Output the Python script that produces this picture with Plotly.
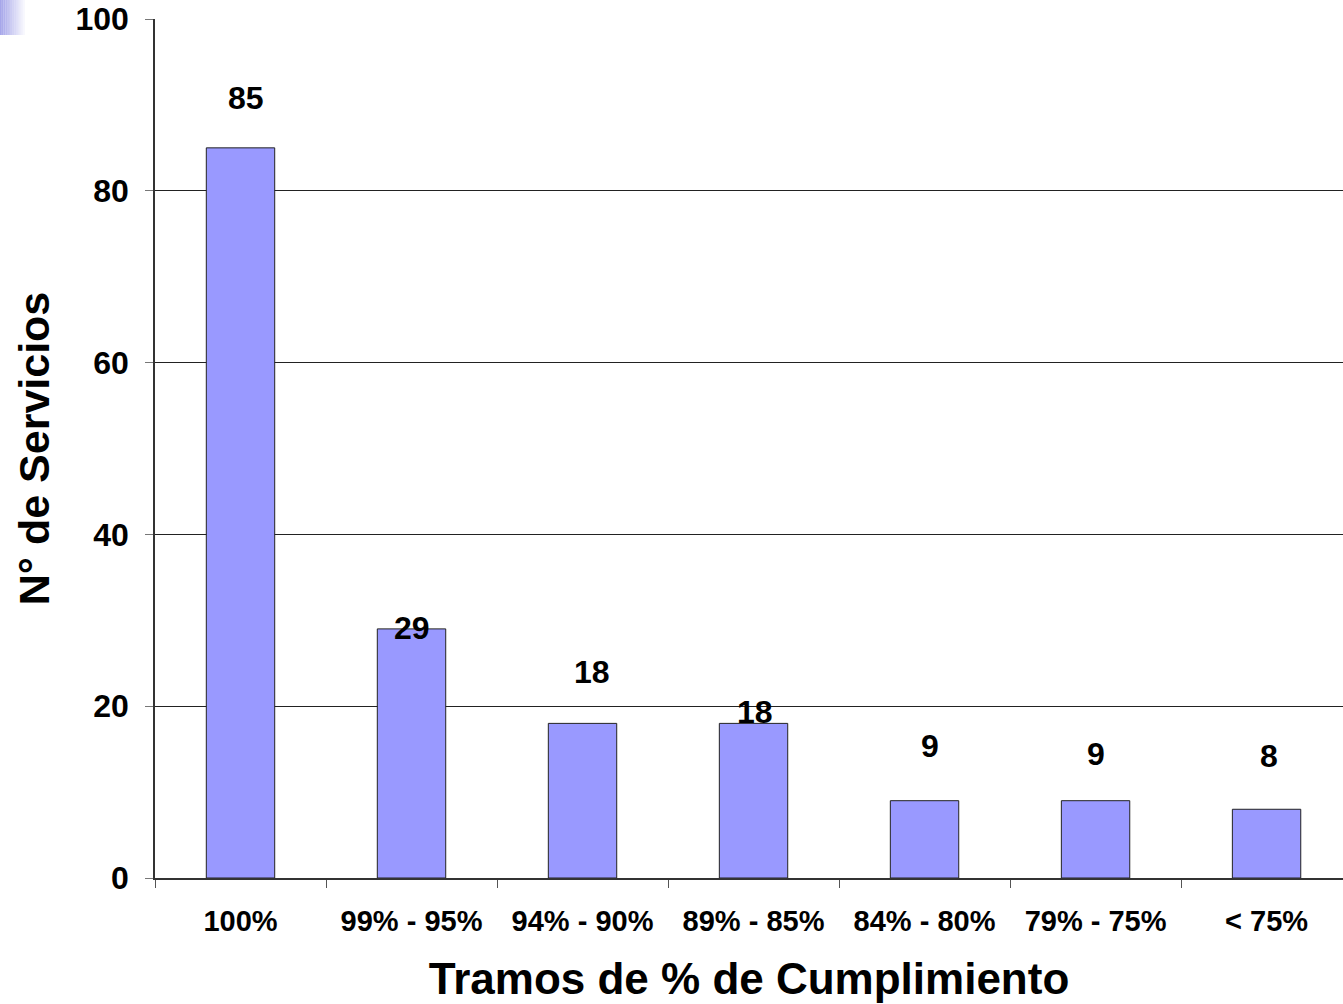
import plotly.graph_objects as go

categories = ["100%", "99% - 95%", "94% - 90%", "89% - 85%", "84% - 80%", "79% - 75%", "< 75%"]
values = [85, 29, 18, 18, 9, 9, 8]
y_ticks = [0, 20, 40, 60, 80, 100]

# label placement (style): pixel offsets of the value labels
label_yshift = [50, 1, 51, 11, 55, 47, 53]
label_xshift = [5, 0, 9, 1, 5, 0, 2]

FONT = "Liberation Sans, Arial, Helvetica, sans-serif"

fig = go.Figure()
fig.add_trace(go.Bar(
    x=categories, y=values, width=0.4,
    marker=dict(color="#9999FF", line=dict(color="#222222", width=1)),
    hoverinfo="x+y",
))

for i, (c, v) in enumerate(zip(categories, values)):
    fig.add_annotation(x=c, y=v, text=str(v), showarrow=False,
                       xanchor="center", yanchor="middle",
                       yshift=label_yshift[i], xshift=label_xshift[i],
                       font=dict(family=FONT, size=32, color="black", weight="bold"))

# decorative gradient square in the top-left corner
n = 14
for i in range(n):
    a = 0.85 * (1 - i / n)
    fig.add_shape(type="rect", xref="paper", yref="paper",
                  xsizemode="pixel", ysizemode="pixel", xanchor=0, yanchor=1,
                  x0=-155 + i * 25 / n, x1=-155 + (i + 1) * 25 / n,
                  y0=19, y1=-16, line=dict(width=0),
                  fillcolor=f"rgba(150,150,230,{a:.3f})", layer="above")

fig.update_layout(
    width=1343, height=1004,
    margin=dict(l=155, r=0, t=19, b=126),
    paper_bgcolor="white", plot_bgcolor="white",
    showlegend=False, bargap=0.6,
    font=dict(family=FONT, color="black"),
    xaxis=dict(
        type="category", range=[-0.5, 6.447],
        tickson="boundaries", ticks="outside", ticklen=8, tickcolor="#555555",
        showline=True, linecolor="#333333", linewidth=1.5,
        showgrid=False,
        ticklabelstandoff=16,
        tickfont=dict(family=FONT, size=29, color="black", weight="bold"),
        title=dict(text="Tramos de % de Cumplimiento", standoff=28,
                   font=dict(family=FONT, size=44, color="black", weight="bold")),
    ),
    yaxis=dict(
        range=[0, 100], tickvals=y_ticks,
        ticks="outside", ticklen=8, tickcolor="#777777",
        showline=True, linecolor="#333333", linewidth=1.5,
        showgrid=True, gridcolor="#222222", gridwidth=1,
        zeroline=False,
        ticklabelstandoff=10,
        tickfont=dict(family=FONT, size=32, color="black", weight="bold"),
        title=dict(text="N° de Servicios", standoff=12,
                   font=dict(family=FONT, size=43, color="black", weight="bold")),
    ),
)

fig.write_html("out.html")
